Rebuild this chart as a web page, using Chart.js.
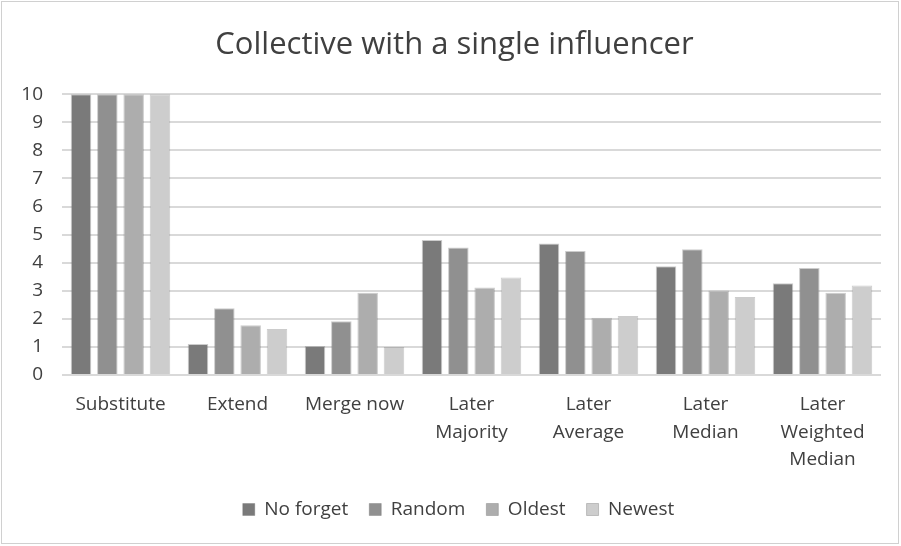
<!DOCTYPE html>
<html>
<head>
<meta charset="utf-8">
<script src="https://cdn.jsdelivr.net/npm/chart.js@4/dist/chart.umd.min.js"></script>
<style>
  html, body { margin: 0; padding: 0; background: #fff; }
  #wrap { position: relative; width: 901px; height: 546px; }
</style>
</head>
<body>
<div id="wrap"><canvas id="c" width="901" height="546"></canvas></div>
<script>
// Strategies compared (x-axis categories; arrays are multi-line labels)
const categories = [
  'Substitute',
  'Extend',
  'Merge now',
  ['Later', 'Majority'],
  ['Later', 'Average'],
  ['Later', 'Median'],
  ['Later', 'Weighted', 'Median']
];

// Forgetting policies, one series each
const noForget = [10, 1.1, 1.03, 4.81, 4.68, 3.87, 3.27];
const randomForget = [10, 2.38, 1.91, 4.54, 4.42, 4.48, 3.81];
const oldest = [10, 1.77, 2.93, 3.12, 2.04, 3.01, 2.93];
const newest = [10, 1.64, 1.0, 3.47, 2.1, 2.78, 3.19];

const yTicks = [0, 1, 2, 3, 4, 5, 6, 7, 8, 9, 10];

const fontFamily = '"Open Sans", "Noto Sans", sans-serif';
const textColor = '#404040';

function series(label, data, color) {
  return {
    label: label,
    data: data,
    backgroundColor: color,
    borderColor: 'rgba(110,110,110,0.35)',
    borderWidth: 1,
    barPercentage: 0.78,
    categoryPercentage: 0.9
  };
}

// White background and thin outer frame around the chart
const frame = {
  id: 'frame',
  beforeDraw(chart) {
    const ctx = chart.ctx;
    ctx.save();
    ctx.fillStyle = '#ffffff';
    ctx.fillRect(0, 0, chart.width, chart.height);
    ctx.strokeStyle = '#d0d0d0';
    ctx.lineWidth = 1;
    ctx.strokeRect(1.5, 1.5, chart.width - 4, chart.height - 4);
    ctx.restore();
  }
};

// Center the title and legend on the whole canvas rather than the padded box
const recenter = {
  id: 'recenter',
  afterLayout(chart) {
    if (chart.titleBlock) chart.titleBlock.right += 28;
    if (chart.legend) chart.legend.right += 36;
  }
};

new Chart(document.getElementById('c'), {
  type: 'bar',
  data: {
    labels: categories,
    datasets: [
      series('No forget', noForget, '#7a7a7a'),
      series('Random', randomForget, '#909090'),
      series('Oldest', oldest, '#adadad'),
      series('Newest', newest, '#cdcdcd')
    ]
  },
  options: {
    responsive: false,
    animation: false,
    devicePixelRatio: 1,
    layout: { padding: { left: 0, right: 20, top: 27, bottom: 17 } },
    plugins: {
      title: {
        display: true,
        text: 'Collective with a single influencer',
        color: '#404040',
        font: { family: fontFamily, size: 31, weight: 'normal', lineHeight: 1.2 },
        padding: { top: 0, bottom: 30 }
      },
      legend: {
        position: 'bottom',
        labels: {
          color: textColor,
          font: { family: fontFamily, size: 19 },
          boxWidth: 12,
          boxHeight: 12,
          padding: 21
        }
      },
      tooltip: { enabled: false }
    },
    scales: {
      x: {
        grid: { display: false },
        border: { display: false },
        ticks: {
          color: textColor,
          font: { family: fontFamily, size: 19, lineHeight: 1.45 },
          maxRotation: 0,
          autoSkip: false,
          padding: 8
        },
        afterFit(scale) { scale.height = 104; }
      },
      y: {
        min: 0,
        max: 10,
        afterBuildTicks(scale) { scale.ticks = yTicks.map(v => ({ value: v })); },
        grid: { color: '#d9d9d9', lineWidth: 2, drawTicks: false },
        border: { display: false },
        ticks: {
          color: textColor,
          font: { family: fontFamily, size: 19 },
          padding: 19
        },
        afterFit(scale) { scale.width = 62; }
      }
    }
  },
  plugins: [frame, recenter]
});
</script>
</body>
</html>
